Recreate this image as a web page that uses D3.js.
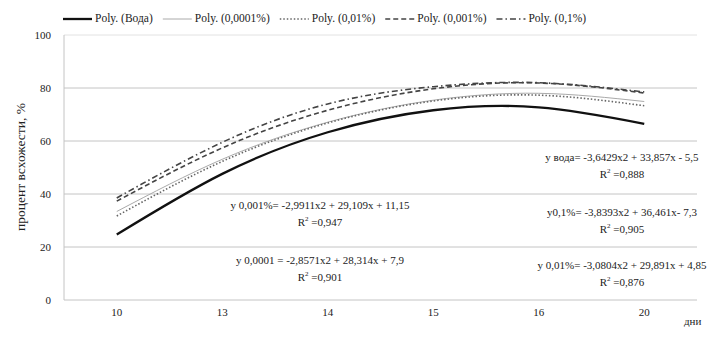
<!DOCTYPE html>
<html>
<head>
<meta charset="utf-8">
<script src="https://cdn.jsdelivr.net/npm/d3@7"></script>
<style>
  html, body { margin: 0; padding: 0; background: #fff; }
  svg text { font-family: "Liberation Serif", "Times New Roman", serif; fill: #222; }
</style>
</head>
<body>
<div id="chart"></div>
<script>
/* ── germination trendlines by day ─────────────────────────── */

const DAYS     = ['10', '13', '14', '15', '16', '20'];
const VODA     = [24.7, 47.6, 63.3, 71.6, 72.7, 66.5];
const C_00001  = [33.4, 53.1, 67.1, 75.4, 78.0, 74.9];
const C_001    = [31.7, 52.3, 66.8, 75.1, 77.3, 73.3];
const C_0001   = [37.3, 57.4, 71.6, 79.7, 81.9, 78.1];
const C_01     = [38.5, 59.5, 74.0, 80.5, 82.0, 78.5];
const Y_TICKS  = [0, 20, 40, 60, 80, 100];

const LEGEND = ['Poly. (Вода)', 'Poly. (0,0001%)', 'Poly. (0,01%)', 'Poly. (0,001%)', 'Poly. (0,1%)'];
const EQ_LEFT  = [
  ['y 0,001%= -2,9911x2 + 29,109x + 11,15', '0,947'],
  ['y 0,0001 = -2,8571x2 + 28,314x + 7,9', '0,901'],
];
const EQ_RIGHT = [
  ['y вода= -3,6429x2 + 33,857x - 5,5', '0,888'],
  ['y0,1%= -3,8393x2 + 36,461x- 7,3', '0,905'],
  ['y 0,01%= -3,0804x2 + 29,891x + 4,85', '0,876'],
];

const series = [
  { name: LEGEND[0], values: VODA,    stroke: '#111', width: 2.3, dash: null },
  { name: LEGEND[1], values: C_00001, stroke: '#aaa', width: 1,   dash: null },
  { name: LEGEND[2], values: C_001,   stroke: '#666', width: 1.6, dash: '1.5,2' },
  { name: LEGEND[3], values: C_0001,  stroke: '#444', width: 1.6, dash: '5,3' },
  { name: LEGEND[4], values: C_01,    stroke: '#444', width: 1.6, dash: '6,3,1.5,3' },
];

// ── layout ───────────────────────────────────────────────────
const W = 714, H = 355;
const ML = 64, MR = 17, MT = 35, MB = 55;

const svg = d3.select('#chart').append('svg').attr('width', W).attr('height', H);

const x = d3.scaleBand().domain(DAYS).range([ML, W - MR]);
const y = d3.scaleLinear().domain([0, 100]).range([H - MB, MT]);
const cx = d => x(d) + x.bandwidth() / 2;

// gridlines
svg.append('g').selectAll('line').data(Y_TICKS).join('line')
  .attr('x1', ML).attr('x2', W - MR)
  .attr('y1', d => y(d)).attr('y2', d => y(d))
  .attr('stroke', d => d === 100 ? '#e2e2e2' : '#c4c4c4').attr('stroke-width', 1);

svg.append('line')
  .attr('x1', ML).attr('x2', ML).attr('y1', y(100)).attr('y2', y(0))
  .attr('stroke', '#c4c4c4');

// y axis labels
svg.append('g').selectAll('text').data(Y_TICKS).join('text')
  .attr('x', ML - 13).attr('y', d => y(d) + 4)
  .attr('text-anchor', 'end').attr('font-size', 11)
  .text(d => d);

// x axis labels
svg.append('g').selectAll('text').data(DAYS).join('text')
  .attr('x', d => cx(d)).attr('y', H - MB + 16)
  .attr('text-anchor', 'middle').attr('font-size', 11)
  .text(d => d);

svg.append('text').attr('x', 684).attr('y', 325)
  .attr('font-size', 11).text('дни');

svg.append('text')
  .attr('transform', `translate(25,167) rotate(-90)`)
  .attr('text-anchor', 'middle').attr('font-size', 13.5)
  .text('процент всхожести, %');

// ── trendlines ───────────────────────────────────────────────
const line = d3.line()
  .x((_, i) => cx(DAYS[i]))
  .y(v => y(v))
  .curve(d3.curveNatural);

svg.append('g').selectAll('path').data(series).join('path')
  .attr('d', s => line(s.values))
  .attr('fill', 'none')
  .attr('stroke', s => s.stroke)
  .attr('stroke-width', s => s.width)
  .attr('stroke-dasharray', s => s.dash);

// ── legend ───────────────────────────────────────────────────
let lx = 63;
series.forEach(s => {
  svg.append('line')
    .attr('x1', lx).attr('x2', lx + 29).attr('y1', 19).attr('y2', 19)
    .attr('stroke', s.stroke).attr('stroke-width', s.width)
    .attr('stroke-dasharray', s.dash);
  const t = svg.append('text').attr('x', lx + 32).attr('y', 22)
    .attr('font-size', 11.5).text(s.name);
  lx += 32 + t.node().getComputedTextLength() + 10;
});

// ── equation labels ──────────────────────────────────────────
function eqLabel(cxPos, baseY, eq, r2) {
  const g = svg.append('g').attr('font-size', 11).attr('text-anchor', 'middle');
  g.append('text').attr('x', cxPos).attr('y', baseY).text(eq);
  const r = g.append('text').attr('x', cxPos).attr('y', baseY + 17);
  r.append('tspan').text('R');
  r.append('tspan').attr('font-size', 7).attr('dy', -5).text('2');
  r.append('tspan').attr('dy', 5).text(' =' + r2);
}

EQ_LEFT.forEach((e, i) => eqLabel(320, [209, 264][i], e[0], e[1]));
EQ_RIGHT.forEach((e, i) => eqLabel(622, [161, 216, 269][i], e[0], e[1]));
</script>
</body>
</html>
